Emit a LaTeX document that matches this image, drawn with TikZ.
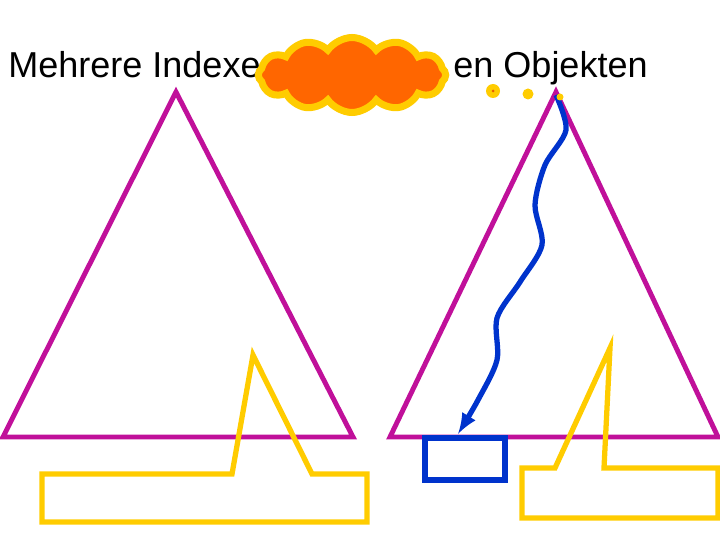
\documentclass[tikz,border=0pt]{standalone}
\usepackage{fontspec}
\setmainfont{Liberation Sans}
\usetikzlibrary{shapes.symbols}
\definecolor{tri}{HTML}{C0109A}
\definecolor{call}{HTML}{FFCC00}
\definecolor{blu}{HTML}{0033CC}
\definecolor{orng}{HTML}{FF6600}
\begin{document}
\begin{tikzpicture}[x=0.02cm,y=-0.02cm,
  tribox/.style={draw=tri,line width=2.8pt},
  callbox/.style={draw=call,line width=3pt},
  ttl/.style={font=\fontsize{20.5}{24}\selectfont,inner sep=0pt}]
	\useasboundingbox (0,0) rectangle (720,540);
	% title
	\node[ttl,anchor=base west] (t1) at (8,78) {Mehrere Indexe};
	\node[ttl,anchor=base east] (t2) at (648,78) {en Objekten};

	% index trees
	\draw[tribox] (176,92) -- (353,437) -- (3,437) -- cycle;
	\draw[tribox] (556,92) -- (718,437) -- (390,437) -- cycle;

	% callouts
	\draw[callbox] (42,474) -- (232,474) -- (253,355) -- (312,474) -- (367,474) -- (367,522) -- (42,522) -- cycle;
	\draw[callbox] (522,468) -- (555,468) -- (610,348) -- (604,468) -- (718,468) -- (718,518) -- (522,518) -- cycle;

	% object
	\node[draw=blu,line width=3pt,minimum width=1.6cm,minimum height=0.84cm,inner sep=0pt] (obj) at (465,459) {};
	\draw[blu,line width=3pt,-latex] plot[smooth] coordinates {(556,95) (566,130) (545,165) (535,205) (542,245) (520,282) (497,318) (497,360) (478,400) (458,434)};

	% thought cloud
	\node[cloud,cloud puffs=12,cloud puff arc=110,aspect=2.8,draw=call,fill=orng,line width=4pt,minimum width=3.75cm,minimum height=1.5cm] (thought) at (352,75) {};
	\node[circle,fill=call,minimum size=0.28cm,inner sep=0pt] (d1) at (493,91) {};
	\fill[orng!90!black] (d1) circle (1.5);
	\node[circle,fill=call,minimum size=0.22cm,inner sep=0pt] (d2) at (528,94) {};
	\node[circle,fill=call,minimum size=0.14cm,inner sep=0pt] (d3) at (560,97) {};
\end{tikzpicture}
\end{document}
